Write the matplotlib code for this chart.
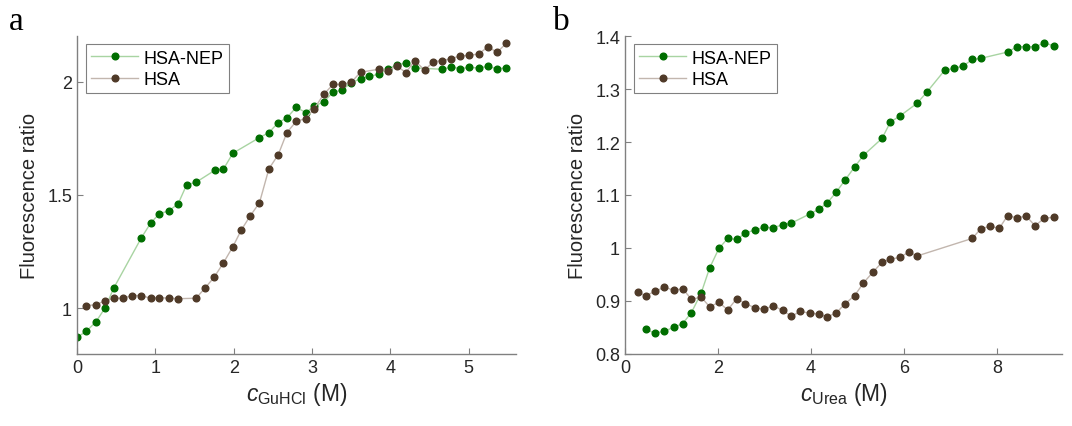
import numpy as np
import matplotlib
matplotlib.use('Agg')
import matplotlib.pyplot as plt

plt.rcParams['font.family'] = ['Liberation Sans', 'DejaVu Sans']
plt.rcParams['mathtext.fontset'] = 'custom'
plt.rcParams['mathtext.rm'] = 'Liberation Sans'
plt.rcParams['mathtext.it'] = 'Liberation Sans:italic'

# Panel a: GuHCl denaturation
guhcl_nep_x = [0.00, 0.12, 0.24, 0.36, 0.47, 0.82, 0.94, 1.05, 1.17, 1.29, 1.40, 1.52,
               1.76, 1.87, 1.99, 2.33, 2.45, 2.57, 2.68, 2.80, 2.92, 3.03, 3.15, 3.27,
               3.38, 3.50, 3.62, 3.73, 3.85, 3.97, 4.08, 4.20, 4.31, 4.66, 4.78, 4.89,
               5.01, 5.13, 5.25, 5.36, 5.48]
guhcl_nep_y = [0.872, 0.900, 0.940, 1.003, 1.090, 1.310, 1.376, 1.417, 1.430, 1.460, 1.545, 1.556,
               1.609, 1.614, 1.684, 1.753, 1.775, 1.819, 1.840, 1.887, 1.863, 1.891, 1.911, 1.953,
               1.962, 1.994, 2.013, 2.023, 2.032, 2.054, 2.074, 2.081, 2.060, 2.054, 2.064, 2.057,
               2.062, 2.060, 2.067, 2.056, 2.060]

guhcl_hsa_x = [0.12, 0.24, 0.36, 0.47, 0.59, 0.70, 0.82, 0.94, 1.05, 1.17, 1.29, 1.52,
               1.63, 1.75, 1.87, 1.99, 2.10, 2.21, 2.33, 2.45, 2.57, 2.68, 2.80, 2.92,
               3.03, 3.15, 3.27, 3.38, 3.50, 3.62, 3.85, 3.97, 4.08, 4.20, 4.31, 4.44,
               4.55, 4.66, 4.78, 4.89, 5.01, 5.13, 5.25, 5.36, 5.48]
guhcl_hsa_y = [1.013, 1.016, 1.034, 1.045, 1.045, 1.057, 1.057, 1.045, 1.048, 1.045, 1.043, 1.045,
               1.088, 1.137, 1.201, 1.272, 1.347, 1.407, 1.466, 1.615, 1.678, 1.775, 1.825, 1.837,
               1.881, 1.944, 1.987, 1.987, 1.996, 2.041, 2.054, 2.045, 2.070, 2.039, 2.092, 2.050,
               2.088, 2.092, 2.101, 2.113, 2.115, 2.122, 2.154, 2.128, 2.168]

# Panel b: urea denaturation
urea_nep_x = [0.45, 0.65, 0.85, 1.05, 1.24, 1.43, 1.64, 1.82, 2.02, 2.21, 2.40, 2.59,
              2.79, 3.00, 3.19, 3.39, 3.58, 3.97, 4.17, 4.35, 4.54, 4.74, 4.94, 5.13,
              5.53, 5.71, 5.91, 6.28, 6.49, 6.88, 7.08, 7.28, 7.47, 7.65, 8.23, 8.43,
              8.63, 8.82, 9.02, 9.22]
urea_nep_y = [0.846, 0.839, 0.843, 0.850, 0.857, 0.878, 0.915, 0.962, 0.999, 1.018, 1.016, 1.028,
              1.034, 1.039, 1.038, 1.044, 1.047, 1.064, 1.073, 1.085, 1.105, 1.129, 1.153, 1.175,
              1.207, 1.238, 1.249, 1.273, 1.294, 1.336, 1.339, 1.344, 1.356, 1.358, 1.370, 1.380,
              1.380, 1.380, 1.387, 1.382]

urea_hsa_x = [0.27, 0.45, 0.65, 0.85, 1.05, 1.24, 1.43, 1.64, 1.82, 2.02, 2.21, 2.40,
              2.59, 2.79, 3.00, 3.19, 3.39, 3.58, 3.77, 3.97, 4.17, 4.35, 4.54, 4.74,
              4.94, 5.13, 5.33, 5.53, 5.71, 5.91, 6.10, 6.29, 7.47, 7.65, 7.85, 8.05,
              8.23, 8.43, 8.63, 8.82, 9.02, 9.22]
urea_hsa_y = [0.916, 0.910, 0.918, 0.926, 0.920, 0.923, 0.903, 0.907, 0.889, 0.897, 0.883, 0.904,
              0.895, 0.887, 0.884, 0.891, 0.882, 0.871, 0.880, 0.877, 0.875, 0.870, 0.877, 0.895,
              0.910, 0.934, 0.954, 0.973, 0.979, 0.982, 0.992, 0.985, 1.018, 1.036, 1.041, 1.037,
              1.061, 1.057, 1.060, 1.042, 1.056, 1.058]

labels = ['HSA-NEP', 'HSA']
marker_colors = ['#006e00', '#4f3a28']
line_colors = ['#a8d4a2', '#c2b6ae']

fig = plt.figure(figsize=(10.72, 4.27), dpi=100)
ax_a = fig.add_axes([0.0718, 0.169, 0.4092, 0.744])
ax_b = fig.add_axes([0.583, 0.169, 0.4077, 0.744])


def draw_series(ax, xs, ys):
    for x, y, lab, mc, lc in zip(xs, ys, labels, marker_colors, line_colors):
        ax.plot(x, y, '-o', color=lc, lw=1.0, ms=4.8, mfc=mc, mec=mc, label=lab)


def style_axes(ax):
    for side in ('top', 'right'):
        ax.spines[side].set_visible(False)
    for side in ('left', 'bottom'):
        ax.spines[side].set_color('#808080')
        ax.spines[side].set_linewidth(1.0)
    ax.tick_params(direction='in', length=4, width=0.8, color='#808080',
                   labelsize=13, labelcolor='#262626')
    ax.set_ylabel('Fluorescence ratio', fontsize=14.5, color='#262626', labelpad=6)
    leg = ax.legend(loc='upper left', bbox_to_anchor=(0.02, 0.975), fontsize=13,
                    fancybox=False, edgecolor='#808080', framealpha=1,
                    borderpad=0.3, handlelength=2.6, handletextpad=0.3,
                    labelspacing=0.25, borderaxespad=0.0)
    leg.get_frame().set_linewidth(0.8)


draw_series(ax_a, [guhcl_nep_x, guhcl_hsa_x], [guhcl_nep_y, guhcl_hsa_y])
ax_a.set_xlim(0, 5.6)
ax_a.set_ylim(0.8, 2.2)
ax_a.set_xticks([0, 1, 2, 3, 4, 5])
ax_a.set_yticks([1, 1.5, 2])
ax_a.set_yticklabels(['1', '1.5', '2'])
ax_a.set_xlabel(r'$c_{\mathrm{GuHCl}}$ (M)', fontsize=16.5, color='#262626', labelpad=3)
style_axes(ax_a)

draw_series(ax_b, [urea_nep_x, urea_hsa_x], [urea_nep_y, urea_hsa_y])
ax_b.set_xlim(0, 9.4)
ax_b.set_ylim(0.8, 1.4)
ax_b.set_xticks([0, 2, 4, 6, 8])
ax_b.set_yticks([0.8, 0.9, 1.0, 1.1, 1.2, 1.3, 1.4])
ax_b.set_yticklabels(['0.8', '0.9', '1', '1.1', '1.2', '1.3', '1.4'])
ax_b.set_xlabel(r'$c_{\mathrm{Urea}}$ (M)', fontsize=16.5, color='#262626', labelpad=3)
style_axes(ax_b)

fig.text(0.008, 0.985, 'a', fontsize=24, family='Liberation Serif', va='top')
fig.text(0.516, 0.985, 'b', fontsize=24, family='Liberation Serif', va='top')

fig.savefig('out.png', dpi=100)
